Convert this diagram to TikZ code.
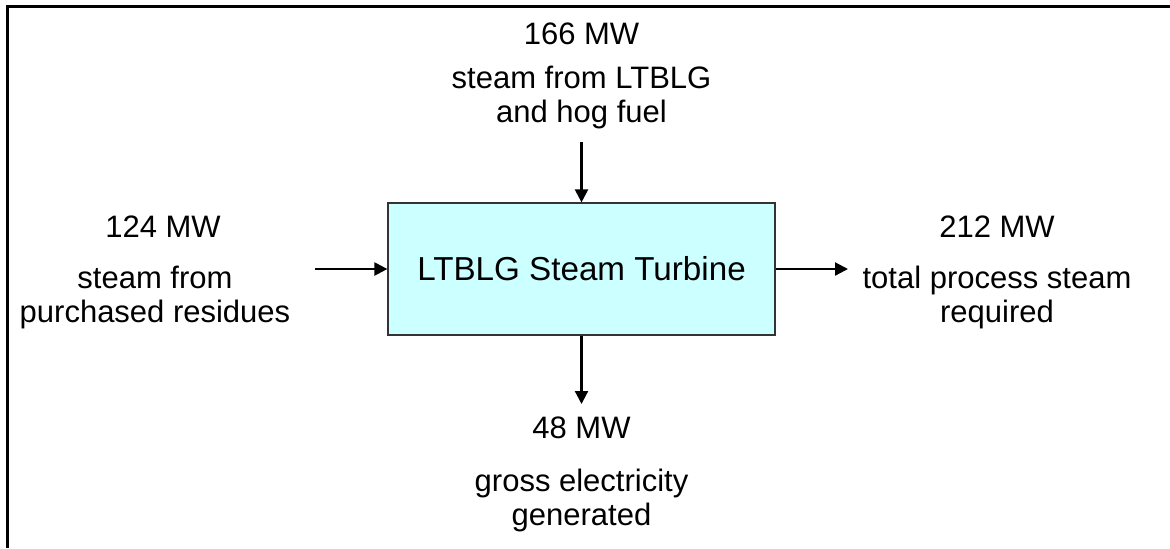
\documentclass[tikz,border=0pt]{standalone}
\usepackage{fontspec}
\setmainfont{Liberation Sans}
\usetikzlibrary{arrows.meta}
\begin{document}
\begin{tikzpicture}[x=0.5pt,y=-0.5pt,
  lbl/.style={inner sep=0pt,align=center,font=\fontsize{15.5pt}{17pt}\selectfont},
  flow/.style={line width=1.1pt,-{Triangle[length=6.5pt,width=6.5pt]}},
  frame/.style={line width=1.4pt}]
\useasboundingbox (0,0) rectangle (1170,548);
\coordinate (tl) at (7.5,6.5);
\coordinate (tr) at (1170,6.5);
\coordinate (bl) at (7.5,548);
\draw[frame] (bl) -- (tl) -- (tr);
\node[draw=black!80,line width=0.6pt,fill={rgb,255:red,204;green,255;blue,255},
  minimum width=193.5pt,minimum height=66pt,inner sep=0pt,
  font=\fontsize{16.6pt}{18pt}\selectfont] (box) at (581.5,269) {LTBLG Steam Turbine};
\node[lbl] (t1) at (581.5,34) {166 MW};
\node[lbl] (t2) at (581.5,97.5) {steam from LTBLG\\and hog fuel};
\node[lbl] (l1) at (163,227) {124 MW};
\node[lbl] (l2) at (155,297.5) {steam from\\purchased residues};
\node[lbl] (r1) at (997,227) {212 MW};
\node[lbl] (r2) at (997,297.5) {total process steam\\required};
\node[lbl] (b1) at (581.5,428) {48 MW};
\node[lbl] (b2) at (581.5,500.5) {gross electricity\\generated};
\coordinate (ta) at (581.5,142);
\coordinate (la) at (315,269);
\coordinate (ra) at (848,269);
\coordinate (ba) at (581.5,404);
\draw[flow] (ta) -- (box.north);
\draw[flow] (la) -- (box.west);
\draw[flow] (box.east) -- (ra);
\draw[flow] (box.south) -- (ba);
\end{tikzpicture}
\end{document}
